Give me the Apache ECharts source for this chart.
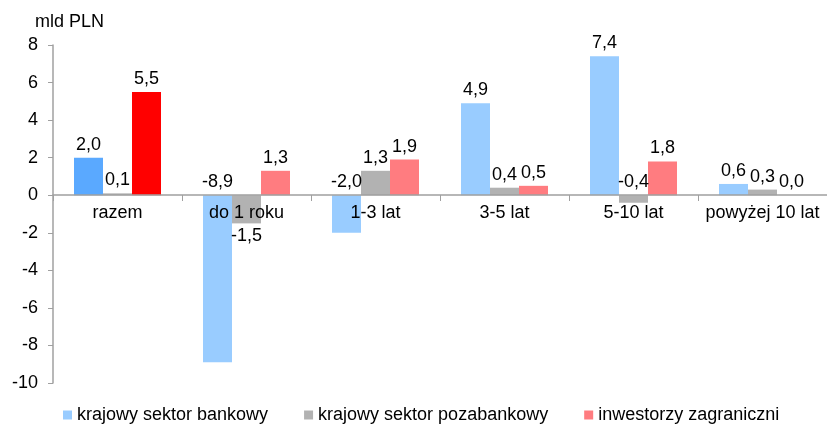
<!DOCTYPE html>
<html>
<head>
<meta charset="utf-8">
<script src="https://cdn.jsdelivr.net/npm/echarts@6/dist/echarts.min.js"></script>
<style>
html,body{margin:0;padding:0;background:#fff}
#chart{width:827px;height:426px}
</style>
</head>
<body>
<div id="chart"></div>
<script>
var categories = ['razem', 'do 1 roku', '1-3 lat', '3-5 lat', '5-10 lat', 'powyżej 10 lat'];
var seriesNames = ['krajowy sektor bankowy', 'krajowy sektor pozabankowy', 'inwestorzy zagraniczni'];
var bankowy = [2.0, -8.9, -2.0, 4.9, 7.4, 0.6];
var pozabankowy = [0.1, -1.5, 1.3, 0.4, -0.4, 0.3];
var zagraniczni = [5.5, 1.3, 1.9, 0.5, 1.8, 0.0];
var yTicks = [-10, -8, -6, -4, -2, 0, 2, 4, 6, 8];

var colors = ['#99CCFF', '#B2B2B2', '#FF7C80'];
var razemColors = ['#5AA9FF', '#B2B2B2', '#FF0000'];
var font = 'Liberation Sans, Arial, sans-serif';

var myChart = echarts.init(document.getElementById('chart'));

function makeSeries(name, values, idx) {
    var data = values.map(function (v, i) {
        var item = { value: v };
        if (i === 0) item.itemStyle = { color: razemColors[idx] };
        // Excel label placed under the bar for this one
        if (idx === 1 && i === 1) item.label = { position: 'bottom' };
        return item;
    });
    return {
        name: name,
        type: 'bar',
        data: data,
        barWidth: 29,
        barGap: '0%',
        itemStyle: { color: colors[idx] },
        label: {
            show: true,
            position: 'top',
            distance: 4,
            color: '#000',
            fontFamily: font,
            fontSize: 18,
            formatter: function (p) {
                return p.value.toFixed(1).replace('.', ',');
            }
        }
    };
}

var option = {
    animation: false,
    backgroundColor: '#fff',
    title: {
        text: 'mld PLN',
        left: 30,
        top: 8,
        textStyle: { fontFamily: font, fontSize: 18, fontWeight: 'normal', color: '#000' }
    },
    legend: {
        left: 58,
        top: 401,
        itemWidth: 9,
        itemHeight: 9,
        itemGap: 36,
        icon: 'rect',
        textStyle: { fontFamily: font, fontSize: 18, color: '#000' },
        data: seriesNames
    },
    grid: { left: 53, top: 45, width: 776, height: 338 },
    xAxis: {
        type: 'category',
        data: categories,
        position: 'bottom',
        offset: -188,   // zero line sits 188px above the grid bottom
        z: 5,           // category names drawn over the bars
        axisLine: { onZero: false, lineStyle: { color: '#A0A0A0', width: 1.5 } },
        axisTick: { show: true, length: 6, lineStyle: { color: '#A0A0A0' } },
        axisLabel: { interval: 0, fontFamily: font, fontSize: 18, color: '#000', margin: 9 },
        splitLine: { show: false }
    },
    yAxis: {
        type: 'value',
        min: yTicks[0],
        max: yTicks[yTicks.length - 1],
        interval: 2,
        axisLine: { show: true, lineStyle: { color: '#A0A0A0', width: 1.5 } },
        axisTick: { show: true, length: 5, lineStyle: { color: '#A0A0A0' } },
        axisLabel: { fontFamily: font, fontSize: 18, color: '#000', margin: 15 },
        splitLine: { show: false }
    },
    series: [
        makeSeries(seriesNames[0], bankowy, 0),
        makeSeries(seriesNames[1], pozabankowy, 1),
        makeSeries(seriesNames[2], zagraniczni, 2)
    ]
};
myChart.setOption(option);
</script>
</body>
</html>
